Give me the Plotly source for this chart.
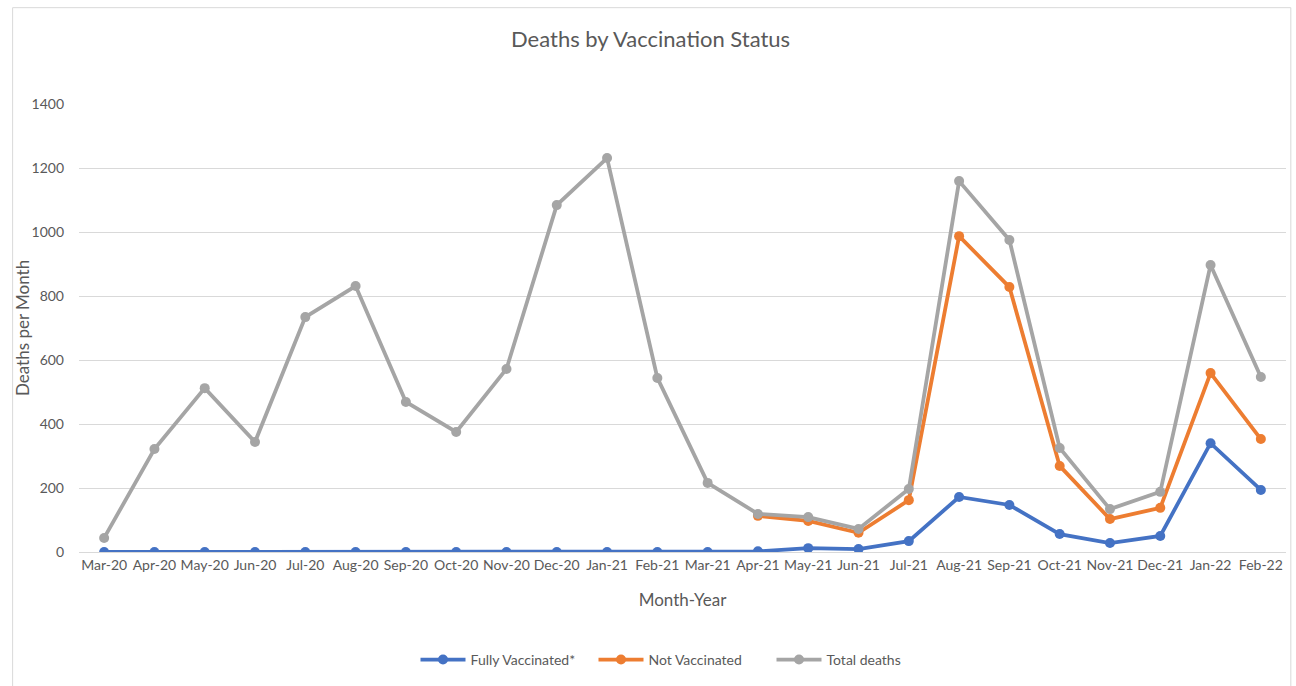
import plotly.graph_objects as go

months = ["Mar-20", "Apr-20", "May-20", "Jun-20", "Jul-20", "Aug-20", "Sep-20", "Oct-20",
          "Nov-20", "Dec-20", "Jan-21", "Feb-21", "Mar-21", "Apr-21", "May-21", "Jun-21",
          "Jul-21", "Aug-21", "Sep-21", "Oct-21", "Nov-21", "Dec-21", "Jan-22", "Feb-22"]

fully_vaccinated = [0, 0, 0, 0, 0, 0, 0, 0, 0, 0, 0, 0, 0, 2, 12, 9,
                    34, 172, 147, 56, 28, 50, 340, 194]

not_vaccinated_months = months[13:]
not_vaccinated = [113, 97, 60, 162, 987, 828, 269, 103, 138, 559, 353]

total_deaths = [44, 322, 512, 344, 734, 831, 469, 375, 572, 1084, 1231, 544,
                216, 119, 109, 72, 197, 1159, 975, 325, 134, 188, 897, 547]

y_ticks = [0, 200, 400, 600, 800, 1000, 1200, 1400]

FONT = "Lato, 'Open Sans', sans-serif"
TEXT = "#595959"

fig = go.Figure()

def add_series(x, y, name, color):
    fig.add_trace(go.Scatter(
        x=x, y=y, name=name, mode="lines+markers",
        line=dict(color=color, width=3.8),
        marker=dict(color=color, size=10),
    ))

add_series(months, fully_vaccinated, "Fully Vaccinated*", "#4472C4")
add_series(not_vaccinated_months, not_vaccinated, "Not Vaccinated", "#ED7D31")
add_series(months, total_deaths, "Total deaths", "#A5A5A5")

fig.update_layout(
    width=1296, height=686,
    margin=dict(l=79, r=10, t=104, b=134),
    paper_bgcolor="white", plot_bgcolor="white",
    font=dict(family=FONT, color=TEXT, size=14),
    title=dict(text="Deaths by Vaccination Status", x=0.502, xanchor="center",
               y=0.942, yanchor="middle", font=dict(size=22, color=TEXT)),
    xaxis=dict(
        type="category", categoryorder="array", categoryarray=months,
        range=[-0.5, len(months) - 0.5],
        showgrid=False, showline=True, linecolor="#D9D9D9", linewidth=1,
        ticks="", tickfont=dict(size=14, color=TEXT),
        title=dict(text="Month-Year", font=dict(size=17, color=TEXT), standoff=22),
    ),
    yaxis=dict(
        range=[0, 1400], tickvals=y_ticks,
        showgrid=True, gridcolor="#D9D9D9", gridwidth=1,
        zeroline=False, showline=False, ticks="",
        ticklabelstandoff=14,
        tickfont=dict(size=14, color=TEXT),
    ),
    annotations=[dict(text="Deaths per Month", xref="paper", yref="paper",
                      x=-0.0472, y=0.5, xanchor="center", yanchor="middle",
                      textangle=-90, showarrow=False,
                      font=dict(size=17, color=TEXT))],
    legend=dict(orientation="h", x=0.5, xanchor="center", y=-0.241, yanchor="middle",
                font=dict(size=14, color=TEXT), entrywidth=118, entrywidthmode="pixels",
                itemwidth=45, traceorder="normal"),
    shapes=[dict(type="rect", xref="paper", yref="paper",
                 x0=-0.055, x1=1.004, y0=-0.355, y1=1.215,
                 line=dict(color="#D9D9D9", width=1), fillcolor="rgba(0,0,0,0)",
                 layer="below")],
)

fig.write_html("out.html")
